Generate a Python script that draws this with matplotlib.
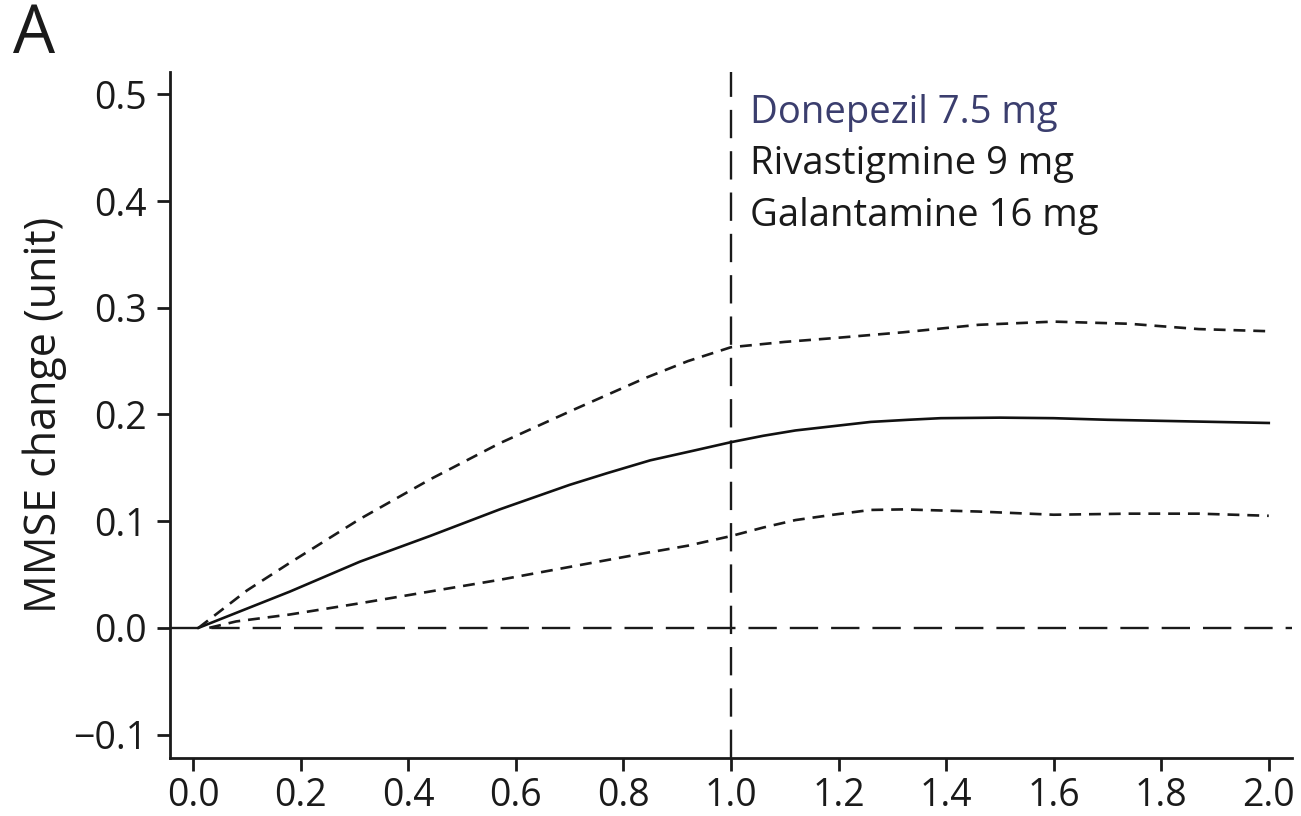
import matplotlib.pyplot as plt

plt.rcParams['font.family'] = ['Open Sans', 'DejaVu Sans']

# years since treatment start
x_est = [0.01, 0.10, 0.18, 0.31, 0.44, 0.57, 0.70, 0.77, 0.85, 0.93, 1.00,
         1.06, 1.12, 1.19, 1.26, 1.33, 1.39, 1.50, 1.60, 1.70, 1.80, 1.90, 2.00]
est = [0.0, 0.018, 0.034, 0.062, 0.086, 0.111, 0.134, 0.145, 0.157, 0.166, 0.174,
       0.180, 0.185, 0.189, 0.193, 0.195, 0.1965, 0.197, 0.1965, 0.195, 0.194, 0.193, 0.192]

x_up = [0.01, 0.10, 0.18, 0.31, 0.44, 0.57, 0.71, 0.84, 0.92, 1.00,
        1.10, 1.19, 1.32, 1.46, 1.60, 1.74, 1.87, 2.00]
upper = [0.0, 0.035, 0.061, 0.102, 0.139, 0.173, 0.205, 0.234, 0.250, 0.263,
         0.268, 0.2715, 0.277, 0.284, 0.287, 0.285, 0.280, 0.278]

x_lo = [0.03, 0.08, 0.18, 0.31, 0.44, 0.57, 0.71, 0.84, 0.92, 1.00,
        1.06, 1.12, 1.19, 1.26, 1.32, 1.46, 1.60, 1.74, 1.87, 2.00]
lower = [0.0, 0.006, 0.0125, 0.023, 0.034, 0.045, 0.058, 0.070, 0.077, 0.086,
         0.094, 0.101, 0.106, 0.1105, 0.111, 0.109, 0.106, 0.107, 0.107, 0.105]

drugs = ["Donepezil 7.5 mg", "Rivastigmine 9 mg", "Galantamine 16 mg"]
drug_colors = ["#3b3e6e", "#1a1a1a", "#1a1a1a"]

fig = plt.figure(figsize=(13.01, 8.16), dpi=100)
ax = fig.add_axes([0.1307, 0.0711, 0.8623, 0.8407])

ax.axhline(0, color="#1a1a1a", lw=1.7, dashes=(12, 5.5))
ax.axvline(1.0, color="#1a1a1a", lw=1.7, dashes=(12, 5.5))

ax.plot(x_est, est, color="#111111", lw=1.9)
ax.plot(x_up, upper, color="#1a1a1a", lw=1.9, dashes=(4.5, 3))
ax.plot(x_lo, lower, color="#1a1a1a", lw=1.9, dashes=(4.5, 3))

for i, (name, col) in enumerate(zip(drugs, drug_colors)):
    ax.text(1.035, 0.473 - i * 0.048, name, color=col, fontsize=27.5, va="baseline")

ax.set_xlim(-0.043, 2.043)
ax.set_ylim(-0.122, 0.521)
ax.set_xticks([0.0, 0.2, 0.4, 0.6, 0.8, 1.0, 1.2, 1.4, 1.6, 1.8, 2.0])
ax.set_yticks([-0.1, 0.0, 0.1, 0.2, 0.3, 0.4, 0.5])
ax.xaxis.set_major_formatter(plt.FormatStrFormatter('%.1f'))
ax.yaxis.set_major_formatter(plt.FuncFormatter(lambda v, p: f"{v:.1f}".replace("-", "\u2212")))

for s in ["top", "right"]:
    ax.spines[s].set_visible(False)
for s in ["left", "bottom"]:
    ax.spines[s].set_linewidth(2.0)
    ax.spines[s].set_color("#1a1a1a")

ax.tick_params(direction="out", length=9.5, width=2.0, labelsize=27,
               colors="#1a1a1a", pad=7)
ax.tick_params(axis="x", pad=4)
ax.set_ylabel("MMSE change (unit)", fontsize=31, color="#1a1a1a", labelpad=4)

fig.text(0.010, 0.935, "A", fontsize=48, color="#1a1a1a", va="baseline")

fig.savefig("out.png", dpi=100)
